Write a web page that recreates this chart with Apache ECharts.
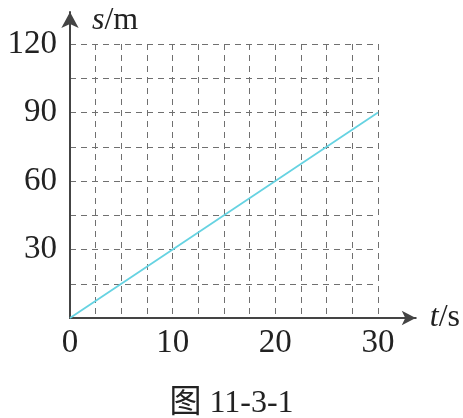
<!DOCTYPE html>
<html>
<head>
<meta charset="utf-8">
<script src="https://cdn.jsdelivr.net/npm/echarts@6/dist/echarts.min.js"></script>
<style>html,body{margin:0;padding:0;background:#fff;}#c{width:463px;height:418px;}</style>
</head>
<body>
<div id="c"></div>
<script>
var times = [0, 10, 20, 30];
var distances = [0, 30, 60, 90];
var xLabelValues = [0, 10, 20, 30];
var yLabelValues = [30, 60, 90, 120];
var caption = '图 11-3-1';

var serif = 'Liberation Serif';
var chart = echarts.init(document.getElementById('c'));
var dash = {color: '#707070', width: 1, type: [6, 5]};
chart.setOption({
  animation: false,
  backgroundColor: '#fff',
  title: {
    text: caption, left: 'center', top: 383,
    textStyle: {fontFamily: serif + ', Noto Sans CJK SC', fontSize: 32, fontWeight: 'normal', color: '#222'}
  },
  grid: [
    {left: 70, right: 85, top: 44, bottom: 100},
    {left: 70, right: 45, top: 12, bottom: 100}
  ],
  xAxis: [
    {type: 'value', gridIndex: 0, min: 0, max: 30, interval: 2.5,
     axisLine: {show: false}, axisTick: {show: false},
     splitLine: {show: true, lineStyle: dash},
     axisLabel: {margin: 9, fontFamily: serif, fontSize: 33, color: '#222',
       formatter: function (v) { return xLabelValues.indexOf(v) >= 0 ? String(v) : ''; }}},
    {type: 'value', gridIndex: 1, min: 0, max: 1,
     axisLine: {show: true, symbol: ['none', 'arrow'], symbolSize: [11, 14], lineStyle: {color: '#444', width: 2}},
     axisTick: {show: false}, axisLabel: {show: false}, splitLine: {show: false},
     name: '{i|t}/s', nameLocation: 'end', nameGap: 14,
     nameTextStyle: {fontFamily: serif, fontSize: 32, color: '#222', verticalAlign: 'middle',
       rich: {i: {fontFamily: serif, fontSize: 32, fontStyle: 'italic', color: '#222'}}}}
  ],
  yAxis: [
    {type: 'value', gridIndex: 0, min: 0, max: 120, interval: 15,
     axisLine: {show: false}, axisTick: {show: false},
     splitLine: {show: true, lineStyle: dash},
     axisLabel: {margin: 13, fontFamily: serif, fontSize: 33, color: '#222',
       formatter: function (v) { return yLabelValues.indexOf(v) >= 0 ? String(v) : ''; }}},
    {type: 'value', gridIndex: 1, min: 0, max: 1,
     axisLine: {show: true, symbol: ['none', 'arrow'], symbolSize: [13, 16], lineStyle: {color: '#444', width: 2}},
     axisTick: {show: false}, axisLabel: {show: false}, splitLine: {show: false},
     name: '{i|s}/m', nameLocation: 'end', nameGap: -9,
     nameTextStyle: {fontFamily: serif, fontSize: 32, color: '#222', align: 'left', verticalAlign: 'middle', padding: [0, 0, 0, 22],
       rich: {i: {fontFamily: serif, fontSize: 32, fontStyle: 'italic', color: '#222'}}}}
  ],
  series: [{
    type: 'line', xAxisIndex: 0, yAxisIndex: 0,
    data: times.map(function (t, i) { return [t, distances[i]]; }),
    showSymbol: false, symbol: 'none',
    lineStyle: {color: '#66d3e2', width: 1.8}
  }]
});
</script>
</body>
</html>
